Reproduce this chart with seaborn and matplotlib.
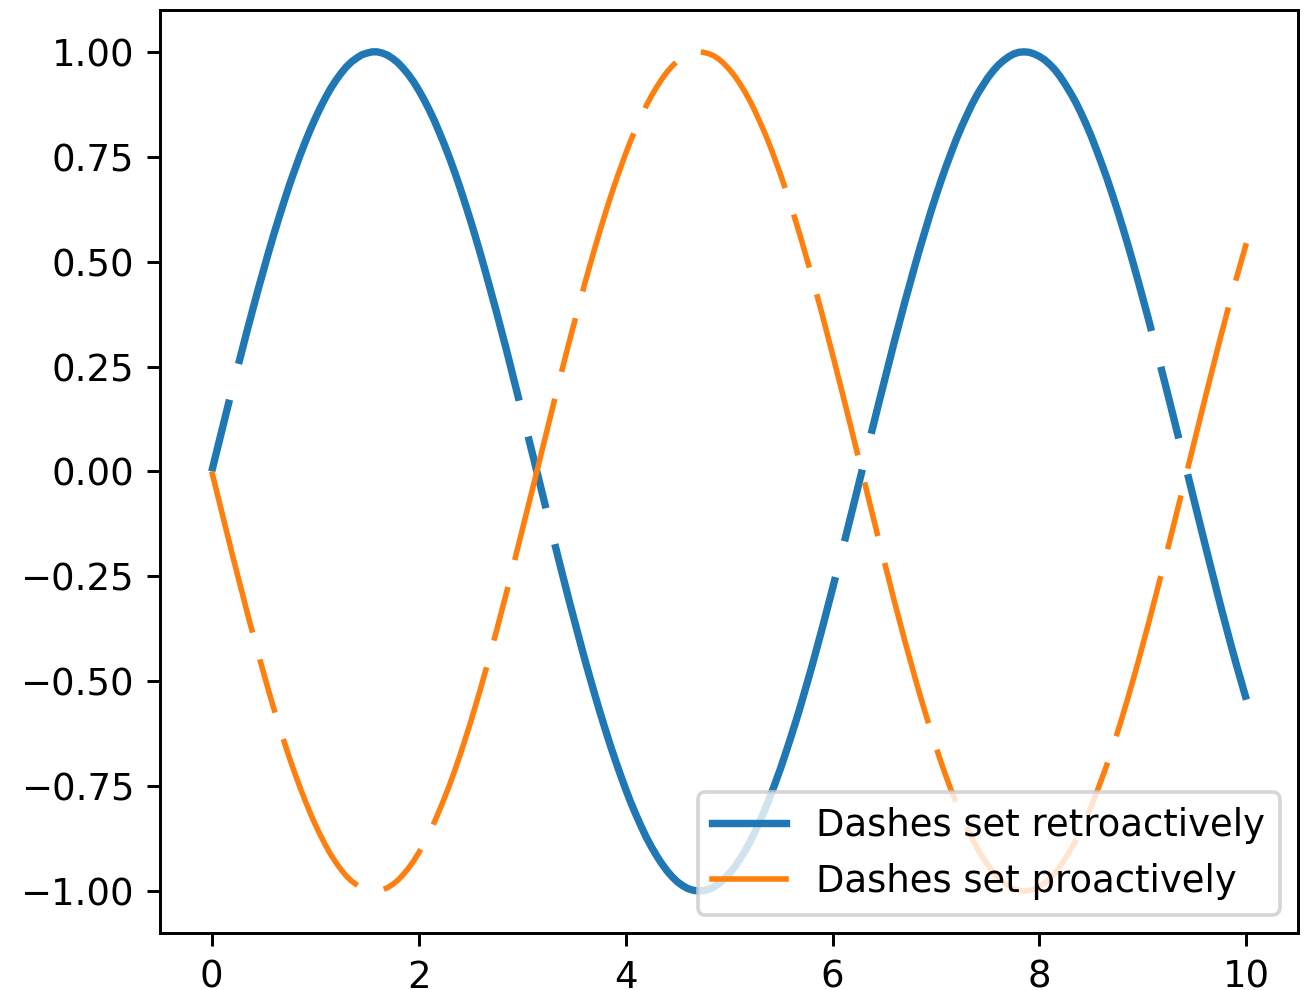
import numpy as np
import pandas as pd
import matplotlib
matplotlib.use("Agg")
import matplotlib.pyplot as plt
import seaborn as sns

# sample grid (step 0.05 from 0 to 10)
x_vals = np.linspace(0, 10, 201)

# values
retro = [0.000, 0.050, 0.100, 0.149, 0.199, 0.247, 0.296, 0.343, 0.389, 0.435,
         0.479, 0.523, 0.565, 0.605, 0.644, 0.682, 0.717, 0.751, 0.783, 0.813,
         0.841, 0.867, 0.891, 0.913, 0.932, 0.949, 0.964, 0.976, 0.985, 0.993,
         0.997, 1.000, 1.000, 0.997, 0.992, 0.984, 0.974, 0.961, 0.946, 0.929,
         0.909, 0.887, 0.863, 0.837, 0.808, 0.778, 0.746, 0.712, 0.676, 0.638,
         0.599, 0.558, 0.516, 0.472, 0.427, 0.382, 0.335, 0.288, 0.239, 0.190,
         0.141, 0.092, 0.042, -0.008, -0.058, -0.108, -0.158, -0.207, -0.256, -0.304,
         -0.351, -0.397, -0.443, -0.487, -0.530, -0.572, -0.612, -0.651, -0.688, -0.723,
         -0.757, -0.789, -0.818, -0.846, -0.872, -0.895, -0.916, -0.935, -0.952, -0.966,
         -0.978, -0.987, -0.994, -0.998, -1.000, -0.999, -0.996, -0.991, -0.983, -0.972,
         -0.959, -0.944, -0.926, -0.906, -0.884, -0.859, -0.832, -0.804, -0.773, -0.740,
         -0.706, -0.669, -0.631, -0.592, -0.551, -0.508, -0.465, -0.420, -0.374, -0.327,
         -0.279, -0.231, -0.182, -0.133, -0.083, -0.033, 0.017, 0.067, 0.117, 0.166,
         0.215, 0.264, 0.312, 0.359, 0.405, 0.450, 0.494, 0.537, 0.578, 0.619,
         0.657, 0.694, 0.729, 0.762, 0.794, 0.823, 0.850, 0.876, 0.899, 0.919,
         0.938, 0.954, 0.968, 0.979, 0.988, 0.995, 0.999, 1.000, 0.999, 0.995,
         0.989, 0.981, 0.970, 0.957, 0.941, 0.922, 0.902, 0.880, 0.855, 0.828,
         0.799, 0.767, 0.734, 0.700, 0.663, 0.625, 0.585, 0.544, 0.501, 0.457,
         0.412, 0.366, 0.319, 0.271, 0.223, 0.174, 0.125, 0.075, 0.025, -0.025,
         -0.075, -0.125, -0.174, -0.223, -0.272, -0.320, -0.367, -0.413, -0.458, -0.501,
         -0.544]

# values
proact = [0.000, -0.050, -0.100, -0.149, -0.199, -0.247, -0.296, -0.343, -0.389, -0.435,
          -0.479, -0.523, -0.565, -0.605, -0.644, -0.682, -0.717, -0.751, -0.783, -0.813,
          -0.841, -0.867, -0.891, -0.913, -0.932, -0.949, -0.964, -0.976, -0.985, -0.993,
          -0.997, -1.000, -1.000, -0.997, -0.992, -0.984, -0.974, -0.961, -0.946, -0.929,
          -0.909, -0.887, -0.863, -0.837, -0.808, -0.778, -0.746, -0.712, -0.676, -0.638,
          -0.599, -0.558, -0.516, -0.472, -0.427, -0.382, -0.335, -0.288, -0.239, -0.190,
          -0.141, -0.092, -0.042, 0.008, 0.058, 0.108, 0.158, 0.207, 0.256, 0.304,
          0.351, 0.397, 0.443, 0.487, 0.530, 0.572, 0.612, 0.651, 0.688, 0.723,
          0.757, 0.789, 0.818, 0.846, 0.872, 0.895, 0.916, 0.935, 0.952, 0.966,
          0.978, 0.987, 0.994, 0.998, 1.000, 0.999, 0.996, 0.991, 0.983, 0.972,
          0.959, 0.944, 0.926, 0.906, 0.884, 0.859, 0.832, 0.804, 0.773, 0.740,
          0.706, 0.669, 0.631, 0.592, 0.551, 0.508, 0.465, 0.420, 0.374, 0.327,
          0.279, 0.231, 0.182, 0.133, 0.083, 0.033, -0.017, -0.067, -0.117, -0.166,
          -0.215, -0.264, -0.312, -0.359, -0.405, -0.450, -0.494, -0.537, -0.578, -0.619,
          -0.657, -0.694, -0.729, -0.762, -0.794, -0.823, -0.850, -0.876, -0.899, -0.919,
          -0.938, -0.954, -0.968, -0.979, -0.988, -0.995, -0.999, -1.000, -0.999, -0.995,
          -0.989, -0.981, -0.970, -0.957, -0.941, -0.922, -0.902, -0.880, -0.855, -0.828,
          -0.799, -0.767, -0.734, -0.700, -0.663, -0.625, -0.585, -0.544, -0.501, -0.457,
          -0.412, -0.366, -0.319, -0.271, -0.223, -0.174, -0.125, -0.075, -0.025, 0.025,
          0.075, 0.125, 0.174, 0.223, 0.272, 0.320, 0.367, 0.413, 0.458, 0.501,
          0.544]

labels = ["Dashes set retroactively", "Dashes set proactively"]

df = pd.DataFrame({"x": x_vals, "retro": retro, "proact": proact})

dpi = 266
fig, ax = plt.subplots(figsize=(1306 / dpi, 990 / dpi), dpi=dpi)
fig.subplots_adjust(left=0.1225, right=0.994, top=0.99, bottom=0.0576)

sns.lineplot(data=df, x="x", y="retro", ax=ax, linewidth=2, label=labels[0],
             color="tab:blue")
sns.lineplot(data=df, x="x", y="proact", ax=ax, linewidth=1.5, label=labels[1],
             color="tab:orange")

line1, line2 = ax.get_lines()[:2]
line1.set_dashes([10, 5, 100, 5])
line2.set_dashes([30, 5, 10, 5])

ax.set_xlabel("")
ax.set_ylabel("")
ax.set_xticks([0, 2, 4, 6, 8, 10])
ax.set_yticks([-1.0, -0.75, -0.5, -0.25, 0.0, 0.25, 0.5, 0.75, 1.0])
ax.set_yticklabels(["\u22121.00", "\u22120.75", "\u22120.50", "\u22120.25", "0.00",
                    "0.25", "0.50", "0.75", "1.00"])
ax.set_xlim(-0.5, 10.5)
ax.set_ylim(-1.1, 1.1)

leg = ax.legend(loc="lower right")
for h in leg.get_lines():
    h.set_linestyle("-")

fig.savefig("out.png", dpi=dpi)
